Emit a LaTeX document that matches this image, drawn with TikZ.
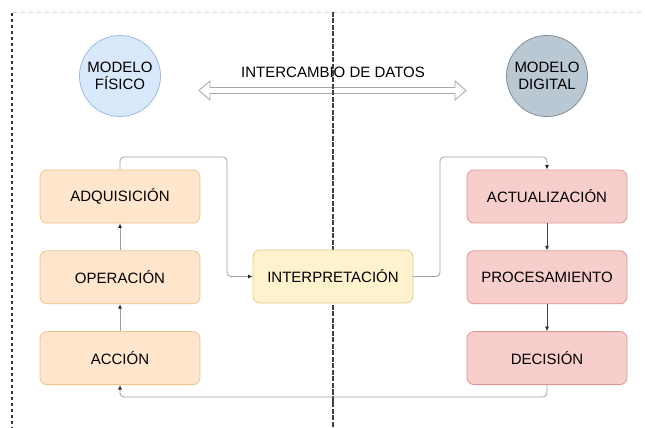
\documentclass[tikz,border=0pt]{standalone}
\usepackage{fontspec}
\setmainfont{Liberation Sans}
\usetikzlibrary{positioning, arrows.meta}

\definecolor{orangefill}{HTML}{FFE6CC}
\definecolor{orangeline}{HTML}{EDC38E}
\definecolor{yellowfill}{HTML}{FFF2CC}
\definecolor{yellowline}{HTML}{E3CD86}
\definecolor{redfill}{HTML}{F8CECC}
\definecolor{redline}{HTML}{D99896}
\definecolor{bluefill}{HTML}{DAE8FC}
\definecolor{blueline}{HTML}{9DB9E0}
\definecolor{greyfill}{HTML}{BAC8D3}
\definecolor{greyline}{HTML}{7D8D9C}

\begin{document}
\begin{tikzpicture}[x=1pt, y=-1pt,
		% Style of the process blocks
		block/.style={
			fill=#1fill,
			draw=#1line,
			line width=0.8pt,
			rounded corners=7pt,
			font=\fontsize{15}{17.5}\selectfont,
			minimum width=160pt,
			minimum height=53pt,
			inner sep=2pt
		},
		% Style of the two models
		model/.style={
			circle,
			fill=#1fill,
			draw=#1line,
			line width=0.8pt,
			minimum size=81pt,
			inner sep=0pt,
			align=center,
			font=\fontsize{15}{17.5}\selectfont
		},
		% Style of the arrows between blocks
		flowarrow/.style={
			-{Latex[length=4.5pt, width=4pt, color=black!85]},
			line width=0.8pt,
			gray!75,
			rounded corners=4pt
		},
		% Style of the separators
		sepline/.style={
			line width=1.3pt,
			black!75,
			dash pattern=on 5pt off 1.5pt
		}
		]
		\useasboundingbox (0,0) rectangle (645,428);

		% --- MODELS AND DATA EXCHANGE ---
		\node[model=blue] (fisico) at (120,76) {MODELO\\FÍSICO};
		\node[model=grey] (digital) at (547,76) {MODELO\\DIGITAL};
		\node[font=\fontsize{15}{17.5}\selectfont] (datos) at (333,72) {INTERCAMBIO DE DATOS};

		\draw[gray!70, line width=0.8pt, fill=white]
			(199,90.5) -- (210,81) -- (210,87.5) -- (455,87.5) -- (455,81) -- (466,90.5)
			-- (455,100) -- (455,93.5) -- (210,93.5) -- (210,100) -- cycle;

		% --- SEPARATORS ---
		\draw[gray!35, line width=0.8pt, dash pattern=on 4pt off 4pt] (13,12) -- (645,12);
		\draw[black!80, line width=1.3pt, dash pattern=on 3pt off 3pt] (12,13) -- (12,428);
		\draw[sepline] (333,12) -- (333,428);

		% --- BLOCKS ---
		\node[block=orange] (adq) at (120,196.5) {ADQUISICIÓN};
		\node[block=orange, below=27pt of adq] (ope) {OPERACIÓN};
		\node[block=orange, below=27pt of ope] (acc) {ACCIÓN};

		\node[block=yellow] (interp) at (333,276.5) {INTERPRETACIÓN};

		\node[block=red] (act) at (547,196.5) {ACTUALIZACIÓN};
		\node[block=red, below=27pt of act] (proc) {PROCESAMIENTO};
		\node[block=red, below=27pt of proc] (dec) {DECISIÓN};

		% --- ROUTING POINTS ---
		\coordinate (topL) at (227,157);
		\coordinate (topR) at (440,157);
		\coordinate (bot) at (333,397);

		% --- ARROWS ---
		\draw[flowarrow] (acc) -- (ope);
		\draw[flowarrow] (ope) -- (adq);
		\draw[flowarrow] (adq.north) |- (topL) |- (interp.west);
		\draw[flowarrow] (interp.east) -| (topR) -| (act.north);
		\draw[flowarrow, black!75] (act) -- (proc);
		\draw[flowarrow, black!75] (proc) -- (dec);
		\draw[flowarrow] (dec.south) |- (bot) -| (acc.south);

		% the separator runs over the feedback line
		\draw[sepline] (333,390) -- (333,404);

	\end{tikzpicture}
\end{document}
